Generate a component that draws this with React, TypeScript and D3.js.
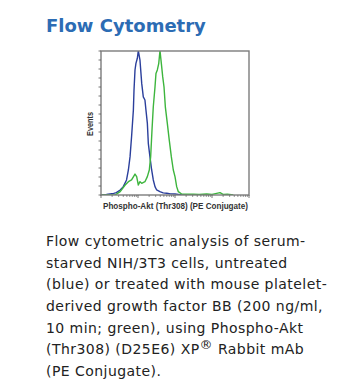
import * as d3 from 'd3';

// untreated (blue) histogram: intensity vs events
const blueX = [1, 1.4, 1.75, 2.2, 2.6, 3.3, 4.0, 4.9, 5.5, 6.1, 6.7, 7.5, 7.8, 8.3, 8.8, 9.6, 10.2, 11.3, 12.6, 13.9, 15.4, 16.4, 17.9, 19.0, 21.0, 23.4, 25.9, 28.8, 32, 39, 48, 60, 75, 100, 137, 180, 250];
const blueY = [0, 0.5, 1.1, 1.8, 2.6, 5.6, 9.3, 16.7, 27.8, 42.6, 64.8, 94.4, 116.7, 138.9, 146.3, 151.9, 160.4, 150, 124, 109, 105.6, 94.4, 79.6, 57.4, 42.6, 27.8, 16.7, 9.3, 5.6, 3.7, 2.4, 1.9, 1.2, 1.1, 0.4, 0.2, 0];

// PDGF-treated (green) histogram
const greenX = [1, 2.4, 3.3, 4.5, 5.5, 6.7, 8.3, 9.2, 10.2, 11.3, 12.6, 15.4, 17.9, 20.2, 22, 23.9, 25.9, 28.8, 30.6, 33.3, 36.3, 39.3, 42.8, 46.5, 50.5, 54.8, 62, 70, 79.5, 90, 100, 111, 123, 151, 200, 312, 450, 720, 1000, 1650, 2030, 2600, 3770];
const greenY = [0, 0, 3.7, 11.1, 14.8, 16.7, 23.3, 20.4, 11.1, 14.8, 13, 14.8, 20.4, 27.8, 42.6, 72.2, 98, 120, 135, 139, 146, 160.4, 146, 131.5, 120, 98, 79.6, 61, 42.6, 27.8, 20.4, 9.3, 3.7, 1.1, 0.8, 1.0, 0.6, 1.1, 0.7, 2.6, 0.5, 0.8, 0];

const yTicks = d3.range(0, 161, 10);
const xDecades = [1, 10, 100, 1000, 10000];

const titleText = 'Flow Cytometry';
const xLabel = 'Phospho-Akt (Thr308) (PE Conjugate)';
const yLabel = 'Events';
const captionLines = [
  'Flow cytometric analysis of serum-',
  'starved NIH/3T3 cells, untreated',
  '(blue) or treated with mouse platelet-',
  'derived growth factor BB (200 ng/ml,',
  '10 min; green), using Phospho-Akt',
  '(Thr308) (D25E6) XP\u00AE Rabbit mAb',
  '(PE Conjugate).',
];

const left = 101, right = 249, top = 51, bottom = 195;

export default function App() {
  const x = d3.scaleLog().domain([1, 10000]).range([left, right]);
  const y = d3.scaleLinear().domain([0, 160]).range([bottom, top]);

  const line = d3
    .line<[number, number]>()
    .x((d) => x(d[0]))
    .y((d) => y(d[1]));

  const blue = blueX.map((v, i) => [v, blueY[i]] as [number, number]);
  const green = greenX.map((v, i) => [v, greenY[i]] as [number, number]);

  const minor: number[] = [];
  xDecades.slice(0, -1).forEach((dec) => {
    for (let k = 2; k < 10; k++) minor.push(dec * k);
  });

  return (
    <svg width={362} height={390} style={{ position: 'absolute', left: 0, top: 0, background: '#fff' }}>
      <text x={46} y={31.5} fill="#2c6cb4" fontFamily="DejaVu Sans, Verdana, sans-serif" fontWeight="bold" fontSize={18}>
        {titleText}
      </text>

      <defs>
        <clipPath id="plot">
          <rect x={left} y={top} width={right - left} height={bottom - top} />
        </clipPath>
      </defs>

      {/* Histograms */}
      <g clipPath="url(#plot)" fill="none" strokeWidth={1.4} strokeLinejoin="round">
        <path d={line(blue) ?? ''} stroke="#2b3f9c" />
        <path d={line(green) ?? ''} stroke="#3db53d" />
      </g>

      {/* Frame */}
      <rect x={left} y={top} width={right - left} height={bottom - top} fill="none" stroke="#7c7c7c" strokeWidth={1.4} />

      {/* Y ticks */}
      {yTicks.map((t) => (
        <line key={'y' + t} x1={left - 2.5} x2={left} y1={y(t)} y2={y(t)} stroke="#555" strokeWidth={0.8} />
      ))}
      {/* X ticks */}
      {xDecades.map((t) => (
        <line key={'xd' + t} x1={x(t)} x2={x(t)} y1={bottom} y2={bottom + 3} stroke="#555" strokeWidth={0.8} />
      ))}
      {minor.map((t) => (
        <line key={'xm' + t} x1={x(t)} x2={x(t)} y1={bottom} y2={bottom + 2} stroke="#666" strokeWidth={0.7} />
      ))}

      <text
        x={175.5}
        y={208.5}
        textAnchor="middle"
        fill="#333"
        fontFamily="Liberation Sans Narrow, Arial Narrow, Liberation Sans, sans-serif"
        fontWeight="bold"
        fontSize={9}
        textLength={145}
        lengthAdjust="spacingAndGlyphs"
      >
        {xLabel}
      </text>
      <text
        transform="translate(92.5,124) rotate(-90)"
        textAnchor="middle"
        fill="#333"
        fontFamily="Liberation Sans Narrow, Arial Narrow, Liberation Sans, sans-serif"
        fontWeight="bold"
        fontSize={9}
        textLength={24}
        lengthAdjust="spacingAndGlyphs"
      >
        {yLabel}
      </text>

      {/* Caption */}
      <g fontFamily="DejaVu Sans, Verdana, sans-serif" fontSize={14} letterSpacing={0.45} fill="#222">
        {captionLines.map((ln, i) => {
          const yy = 246 + i * 21.67;
          if (ln.includes('\u00AE')) {
            const [a, b] = ln.split('\u00AE');
            return (
              <text key={i} x={46} y={yy}>
                {a}
                <tspan dy={-5.5} fontSize={13}>{'\u00AE'}</tspan>
                <tspan dy={5.5}>{b}</tspan>
              </text>
            );
          }
          return (
            <text key={i} x={46} y={yy}>
              {ln}
            </text>
          );
        })}
      </g>
    </svg>
  );
}
